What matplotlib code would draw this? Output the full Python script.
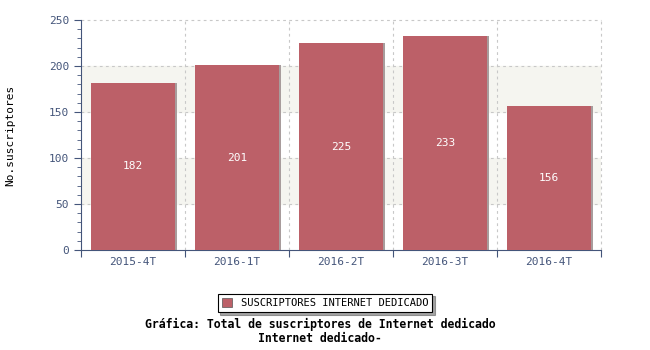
import matplotlib.pyplot as plt
import numpy as np
from matplotlib.patches import Patch

periodos = ["2015-4T", "2016-1T", "2016-2T", "2016-3T", "2016-4T"]
suscriptores = [182, 201, 225, 233, 156]

BAR_COLOR = "#bc6068"
AXIS_COLOR = "#44557a"
GRID = dict(color="#c8c8c8", lw=0.8, ls=(0, (2.5, 3)), zorder=1, clip_on=False)
plt.rcParams['font.family'] = ['DejaVu Sans Mono']

fig = plt.figure(figsize=(6.5, 3.5), dpi=100)
ax = fig.add_axes([81 / 650, 1 - 250 / 350, 520 / 650, 230 / 350])

n = len(periodos)
x = np.arange(n)
ax.set_xlim(-0.5, n - 0.5)
ax.set_ylim(0, 250)

# alternating bands
for lo, hi in [(50, 100), (150, 200)]:
    ax.axhspan(lo, hi, color="#f5f5f0", zorder=0)

# grid, including the right edge
for y in [50, 100, 150, 200, 250]:
    ax.axhline(y, **GRID)
for b in np.arange(n) + 0.5:
    ax.axvline(b, **GRID)

# bars with a light shadow edge
ax.bar(x + 0.02, suscriptores, width=0.81, color="#a89c9c", zorder=2)
ax.bar(x, suscriptores, width=0.81, color=BAR_COLOR, zorder=3)
for xi, v in zip(x, suscriptores):
    ax.text(xi, v / 2, str(v), color="white", ha="center", va="center",
            fontsize=8, zorder=4)

ax.set_xticks(np.arange(n + 1) - 0.5)
ax.set_xticklabels([])
ax.set_xticks(x, minor=True)
ax.set_xticklabels(periodos, minor=True, fontsize=8, color=AXIS_COLOR)
ax.tick_params(axis="x", which="major", length=5, color=AXIS_COLOR, direction="out")
ax.tick_params(axis="x", which="minor", length=0, pad=5)

ax.set_yticks(range(0, 251, 50))
ax.set_yticks(range(0, 251, 10), minor=True)
ax.tick_params(axis="y", which="major", length=5, color=AXIS_COLOR, labelsize=8,
               labelcolor=AXIS_COLOR)
ax.tick_params(axis="y", which="minor", length=3, color=AXIS_COLOR)

for s in ["top", "right"]:
    ax.spines[s].set_visible(False)
for s in ["left", "bottom"]:
    ax.spines[s].set_color(AXIS_COLOR)

fig.text(10 / 650, 1 - 135 / 350, "No.suscriptores", rotation=90, ha="center",
         va="center", fontsize=8)

leg = fig.legend(handles=[Patch(facecolor=BAR_COLOR, edgecolor="#555555", lw=0.5)],
                 labels=["SUSCRIPTORES INTERNET DEDICADO"],
                 loc="center", bbox_to_anchor=(325 / 650, 1 - 303 / 350),
                 fontsize=7.5, fancybox=False, shadow=True, edgecolor="black",
                 handlelength=1.0, handleheight=1.0, borderpad=0.4)
leg.get_frame().set_linewidth(0.8)

fig.text(320 / 650, 1 - 324 / 350, "Gráfica: Total de suscriptores de Internet dedicado",
         ha="center", va="center", fontsize=8.3, fontweight="bold")
fig.text(320 / 650, 1 - 338 / 350, "Internet dedicado-",
         ha="center", va="center", fontsize=8.3, fontweight="bold")

fig.savefig("out.png", dpi=100)
